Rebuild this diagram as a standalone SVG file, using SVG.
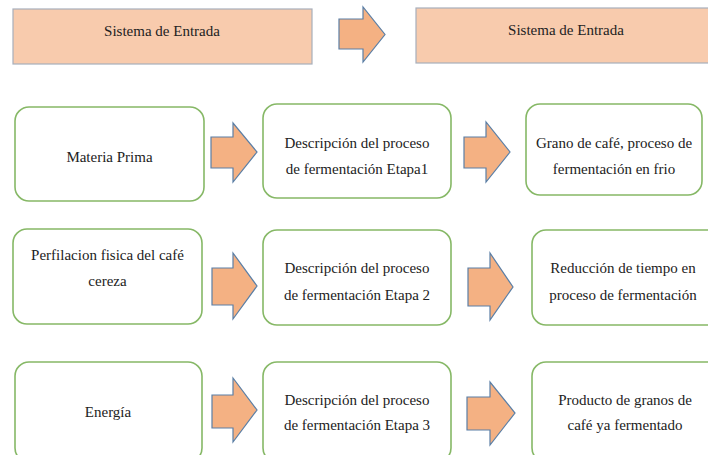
<svg xmlns="http://www.w3.org/2000/svg" width="708" height="455" viewBox="0 0 708 455" font-family="'Liberation Serif', 'Times New Roman', 'DejaVu Serif', serif" font-size="15">
<style>
.hdr{fill:#F8CBAD;stroke:#A7AFBB;stroke-width:1.2}
.box{fill:#FFFFFF;stroke:#86B866;stroke-width:1.6}
.arr{fill:#F4B183;stroke:#5B7FA6;stroke-width:1.2;stroke-linejoin:miter}
.t{fill:#222222;text-anchor:middle}
</style>
<rect width="708" height="455" fill="#FFFFFF"/>
<g id="header-left"><rect class="hdr" x="13" y="9" width="299" height="55"/><text class="t" x="162" y="36">Sistema de Entrada</text></g>
<g id="header-right"><rect class="hdr" x="416" y="8" width="300" height="55"/><text class="t" x="566" y="35">Sistema de Entrada</text></g>
<g id="n-materia"><rect class="box" x="15" y="107" width="189" height="94" rx="14"/><text class="t" x="109.5" y="162">Materia Prima</text></g>
<g id="n-etapa1"><rect class="box" x="263" y="104" width="188" height="94" rx="14"/><text class="t" x="357" y="148">Descripción del proceso</text><text class="t" x="357" y="174">de fermentación Etapa1</text></g>
<g id="n-grano"><rect class="box" x="526" y="104" width="176" height="91" rx="14"/><text class="t" x="614" y="148">Grano de café, proceso de</text><text class="t" x="614" y="174">fermentación en frio</text></g>
<g id="n-perfilacion"><rect class="box" x="13" y="229" width="189" height="95" rx="14"/><text class="t" x="107.5" y="260">Perfilacion fisica del café</text><text class="t" x="107.5" y="286">cereza</text></g>
<g id="n-etapa2"><rect class="box" x="263" y="230" width="188" height="95" rx="14"/><text class="t" x="357" y="273">Descripción del proceso</text><text class="t" x="357" y="300">de fermentación Etapa 2</text></g>
<g id="n-reduccion"><rect class="box" x="532" y="230" width="190" height="95" rx="14"/><text class="t" x="623" y="273">Reducción de tiempo en</text><text class="t" x="623" y="300">proceso de fermentación</text></g>
<g id="n-energia"><rect class="box" x="15" y="362" width="187" height="100" rx="14"/><text class="t" x="108" y="417">Energía</text></g>
<g id="n-etapa3"><rect class="box" x="263" y="362" width="188" height="100" rx="14"/><text class="t" x="357" y="405">Descripción del proceso</text><text class="t" x="357" y="430">de fermentación Etapa 3</text></g>
<g id="n-producto"><rect class="box" x="532" y="362" width="190" height="100" rx="14"/><text class="t" x="625" y="405">Producto de granos de</text><text class="t" x="625" y="430">café ya fermentado</text></g>
<g id="connectors">
<path class="arr" d="M339 19H363V7L385 34.5L363 62V49H339Z"/>
<path class="arr" d="M211 137H233V123L257 152L233 182V168H211Z"/>
<path class="arr" d="M464 137H486V122L510 152L486 182V168H464Z"/>
<path class="arr" d="M212 268H233V253L257 286L233 319V305H212Z"/>
<path class="arr" d="M468 268H490V253L513 287L490 320V306H468Z"/>
<path class="arr" d="M212 395H233V378L257 410L233 442V428H212Z"/>
<path class="arr" d="M467 397H490V382L515 413L490 445V430H467Z"/>
</g>
</svg>
